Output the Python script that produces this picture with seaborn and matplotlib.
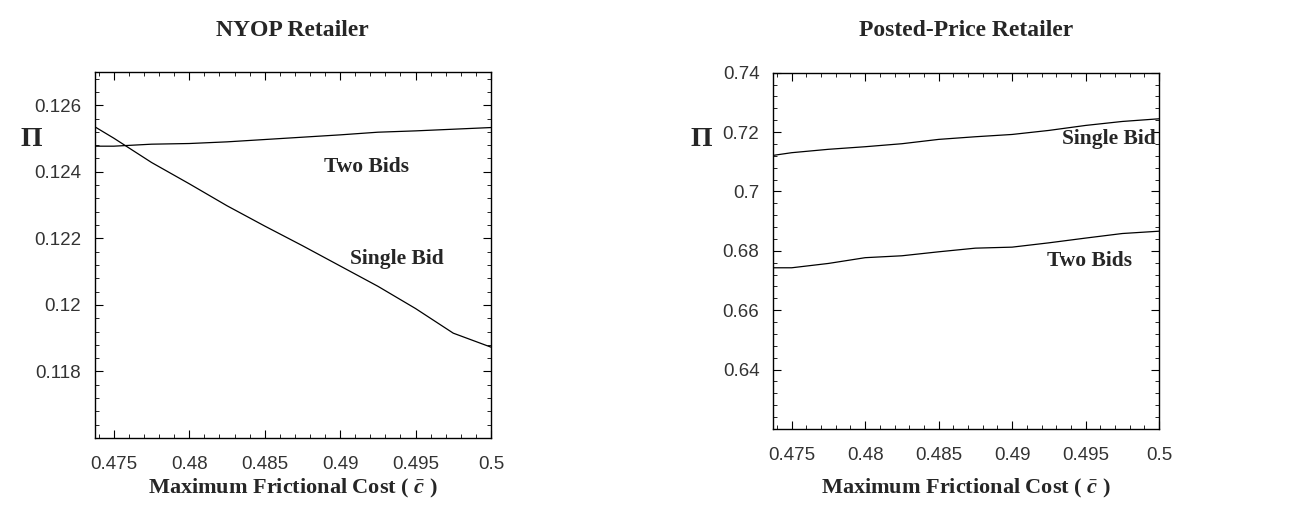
import numpy as np
import matplotlib.pyplot as plt
import seaborn as sns
from matplotlib.ticker import MultipleLocator, FixedLocator, FixedFormatter

sns.set_theme(style="ticks")
plt.rcParams["font.family"] = ["Liberation Sans Narrow", "Liberation Sans", "DejaVu Sans"]
plt.rcParams["mathtext.fontset"] = "custom"
plt.rcParams["mathtext.it"] = "Liberation Serif:italic:bold"
plt.rcParams["mathtext.rm"] = "Liberation Serif:bold"
plt.rcParams["mathtext.bf"] = "Liberation Serif:bold"

# ----------------------------------------------------------------------
# data
# ----------------------------------------------------------------------
cost = [0.47375, 0.475, 0.4775, 0.48, 0.4825, 0.485, 0.4875, 0.49, 0.4925, 0.495, 0.4975, 0.5]

nyop_single = [0.12535, 0.12501, 0.12428, 0.12364, 0.12298, 0.12237,
               0.12178, 0.12117, 0.12056, 0.11989, 0.11915, 0.11873]
nyop_two = [0.12477, 0.12477, 0.12483, 0.12485, 0.12490, 0.12497,
            0.12504, 0.12511, 0.12519, 0.12523, 0.12528, 0.12533]

posted_single = [0.71216, 0.71306, 0.71420, 0.71507, 0.71608, 0.71754,
                 0.71843, 0.71920, 0.72056, 0.72224, 0.72358, 0.72448]
posted_two = [0.67430, 0.67430, 0.67576, 0.67770, 0.67834, 0.67968,
              0.68091, 0.68125, 0.68270, 0.68430, 0.68584, 0.68662]

x_ticks = [0.475, 0.48, 0.485, 0.49, 0.495, 0.5]
x_labels = ["0.475", "0.48", "0.485", "0.49", "0.495", "0.5"]
nyop_yticks = [0.118, 0.12, 0.122, 0.124, 0.126]
nyop_ylabels = ["0.118", "0.12", "0.122", "0.124", "0.126"]
posted_yticks = [0.64, 0.66, 0.68, 0.7, 0.72, 0.74]
posted_ylabels = ["0.64", "0.66", "0.68", "0.7", "0.72", "0.74"]

serif = ["Liberation Serif", "DejaVu Serif"]
xlabel = r"Maximum Frictional Cost ( $\bar{c}$ )"

fig = plt.figure(figsize=(13.01, 5.16), dpi=100)
ax1 = fig.add_axes([0.0730, 0.1512, 0.3044, 0.7093])
ax2 = fig.add_axes([0.5944, 0.1686, 0.2965, 0.6905])


def style_axis(ax, yticks, ylabels, ylim, yminor):
    ax.set_xlim(0.47375, 0.5)
    ax.set_ylim(*ylim)
    ax.xaxis.set_major_locator(FixedLocator(x_ticks))
    ax.xaxis.set_major_formatter(FixedFormatter(x_labels))
    ax.xaxis.set_minor_locator(MultipleLocator(0.001))
    ax.yaxis.set_major_locator(FixedLocator(yticks))
    ax.yaxis.set_major_formatter(FixedFormatter(ylabels))
    ax.yaxis.set_minor_locator(MultipleLocator(yminor))
    ax.tick_params(which="both", direction="in", top=True, right=True,
                   labelsize=13.5, color="black", labelcolor="#333333")
    ax.tick_params(which="major", length=6, width=0.8, pad=10)
    ax.tick_params(axis="x", which="major", pad=13)
    ax.tick_params(which="minor", length=3, width=0.6)
    for sp in ax.spines.values():
        sp.set_visible(True)
        sp.set_linewidth(1.0)
        sp.set_color("black")
    ax.set_xlabel("")
    ax.set_ylabel("")


sns.lineplot(x=cost, y=nyop_single, ax=ax1, color="black", linewidth=0.9)
sns.lineplot(x=cost, y=nyop_two, ax=ax1, color="black", linewidth=0.9)
style_axis(ax1, nyop_yticks, nyop_ylabels, (0.116, 0.127), 0.0004)
ax1.text(0.49176, 0.12414, "Two Bids", family=serif, fontweight="bold",
         fontsize=15.5, ha="center", va="center")
ax1.text(0.49375, 0.12139, "Single Bid", family=serif, fontweight="bold",
         fontsize=15.5, ha="center", va="center")

sns.lineplot(x=cost, y=posted_single, ax=ax2, color="black", linewidth=0.9)
sns.lineplot(x=cost, y=posted_two, ax=ax2, color="black", linewidth=0.9)
style_axis(ax2, posted_yticks, posted_ylabels, (0.62, 0.74), 0.004)
ax2.text(0.4966, 0.71775, "Single Bid", family=serif, fontweight="bold",
         fontsize=15.5, ha="center", va="center")
ax2.text(0.4953, 0.67653, "Two Bids", family=serif, fontweight="bold",
         fontsize=15.5, ha="center", va="center")

# titles, axis labels
fig.text(0.225, 0.94, "NYOP Retailer", family=serif, fontweight="bold",
         fontsize=17, ha="center", va="center")
fig.text(0.7425, 0.94, "Posted-Price Retailer", family=serif, fontweight="bold",
         fontsize=17, ha="center", va="center")
fig.text(0.225, 0.054, xlabel, family=serif, fontweight="bold",
         fontsize=16, ha="center", va="center")
fig.text(0.7425, 0.054, xlabel, family=serif, fontweight="bold",
         fontsize=16, ha="center", va="center")
fig.text(0.0154, 0.729, "Π", family=serif, fontweight="bold",
         fontsize=20, ha="left", va="center")
fig.text(0.531, 0.729, "Π", family=serif, fontweight="bold",
         fontsize=20, ha="left", va="center")

fig.savefig("out.png", dpi=100, facecolor="white")
